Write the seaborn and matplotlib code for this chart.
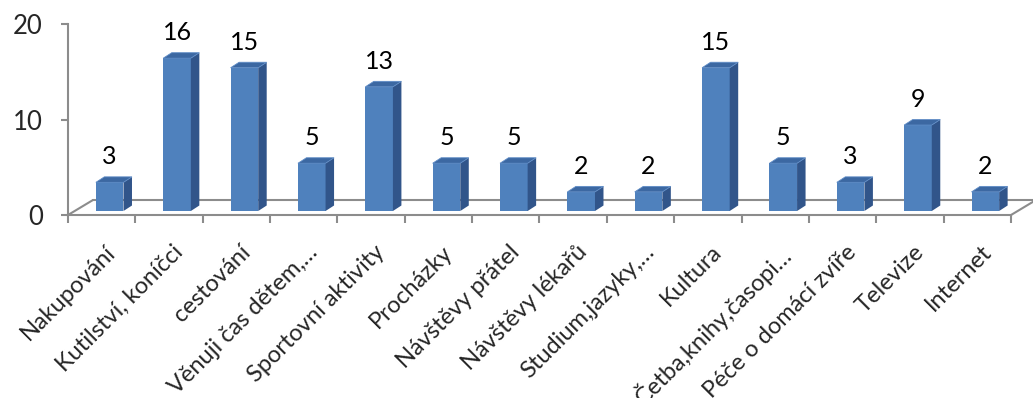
import matplotlib
matplotlib.use("Agg")
import matplotlib.pyplot as plt
from matplotlib.patches import Polygon
from matplotlib.lines import Line2D
from matplotlib.transforms import ScaledTranslation, IdentityTransform
import numpy as np
import pandas as pd
import seaborn as sns

categories = [
    "Nakupování", "Kutilství, koníčci", "cestování", "Věnuji čas dětem,…",
    "Sportovní aktivity", "Procházky", "Návštěvy přátel", "Návštěvy lékařů",
    "Studium,jazyky,…", "Kultura", "Četba,knihy,časopi…", "Péče o domácí zvíře",
    "Televize", "Internet",
]
values = [3, 16, 15, 5, 13, 5, 5, 2, 2, 15, 5, 3, 9, 2]
y_ticks = [0, 10, 20]

FRONT = "#4F81BD"
SIDE = "#31558A"
TOP = "#3C68A2"
AXIS = "#8C8C8C"

sns.set_theme(style="white")
plt.rcParams["font.family"] = ["Lato", "DejaVu Sans"]

W, H, DPI = 1033, 398, 100
fig = plt.figure(figsize=(W / DPI, H / DPI), dpi=DPI)
ax = fig.add_axes([68 / W, (H - 215) / H, (1011 - 68) / W, (215 - 24) / H])

df = pd.DataFrame({"cat": categories, "val": values})
sns.barplot(data=df, x="cat", y="val", color=FRONT, saturation=1,
            width=0.41, linewidth=0, ax=ax)

ax.set_xlim(-0.5, len(categories) - 0.5)
ax.set_ylim(0, 20)
ax.set_xlabel("")
ax.set_ylabel("")

# bars sit slightly back inside the floor: shift them in pixels
px = fig.dpi_scale_trans
bar_shift = (8, 4)
bar_tr = ax.transData + ScaledTranslation(bar_shift[0] / DPI, bar_shift[1] / DPI, px)
depth = np.array([8.5, 5.5])

for p, v in zip(ax.patches, values):
    p.set_transform(bar_tr)
    x0, w = p.get_x(), p.get_width()
    (l, b), (r, t) = ax.transData.transform([(x0, 0), (x0 + w, v)])
    l += bar_shift[0]; r += bar_shift[0]; b += bar_shift[1]; t += bar_shift[1]
    side = [(r, b), (r, t), (r + depth[0], t + depth[1]), (r + depth[0], b + depth[1])]
    top = [(l, t), (r, t), (r + depth[0], t + depth[1]), (l + depth[0], t + depth[1])]
    ax.add_patch(Polygon(side, closed=True, facecolor=SIDE, edgecolor="none",
                         transform=IdentityTransform(), clip_on=False))
    ax.add_patch(Polygon(top, closed=True, facecolor=TOP, edgecolor="#5F8CC6",
                         linewidth=0.6, transform=IdentityTransform(), clip_on=False))
    ax.text(x0 + w / 2, v, f"{v}", transform=bar_tr + ScaledTranslation(0, 14 / DPI, px),
            ha="center", va="bottom", fontsize=18, color="black")

# floor of the 3D plot area
floor = np.array([25, 15])
(fl_x, fl_y), (fr_x, fr_y) = ax.transData.transform([(-0.5, 0), (len(categories) - 0.5, 0)])
for xs, ys in [
    ([fl_x, fl_x + floor[0]], [fl_y, fl_y + floor[1]]),
    ([fl_x + floor[0], fr_x + floor[0]], [fl_y + floor[1], fr_y + floor[1]]),
    ([fr_x, fr_x + floor[0]], [fr_y, fr_y + floor[1]]),
]:
    ln = Line2D(xs, ys, color=AXIS, linewidth=1.5, transform=IdentityTransform(), clip_on=False)
    ax.add_line(ln)
    ln.set_zorder(0.5)

for s in ["top", "right"]:
    ax.spines[s].set_visible(False)
for s in ["left", "bottom"]:
    ax.spines[s].set_color(AXIS)
    ax.spines[s].set_linewidth(1.5)

ax.set_yticks(y_ticks)
ax.set_yticklabels([str(t) for t in y_ticks])
ax.tick_params(axis="y", direction="out", length=5, width=1.5, color=AXIS,
               labelsize=18.5, pad=13, left=True)

ax.set_xticks(range(len(categories)))
ax.set_xticks(np.arange(-0.5, len(categories)), minor=True)
ax.tick_params(axis="x", which="major", length=0, labelsize=17, pad=19)
ax.tick_params(axis="x", which="minor", direction="out", length=6, width=1.5,
               color=AXIS, bottom=True)
lab_shift = ScaledTranslation(3 / DPI, 0, px)
for lab in ax.get_xticklabels():
    lab.set_rotation(45)
    lab.set_ha("right")
    lab.set_rotation_mode("anchor")
    lab.set_transform(lab.get_transform() + lab_shift)

ax.grid(False)
fig.savefig("out.png", dpi=DPI)
